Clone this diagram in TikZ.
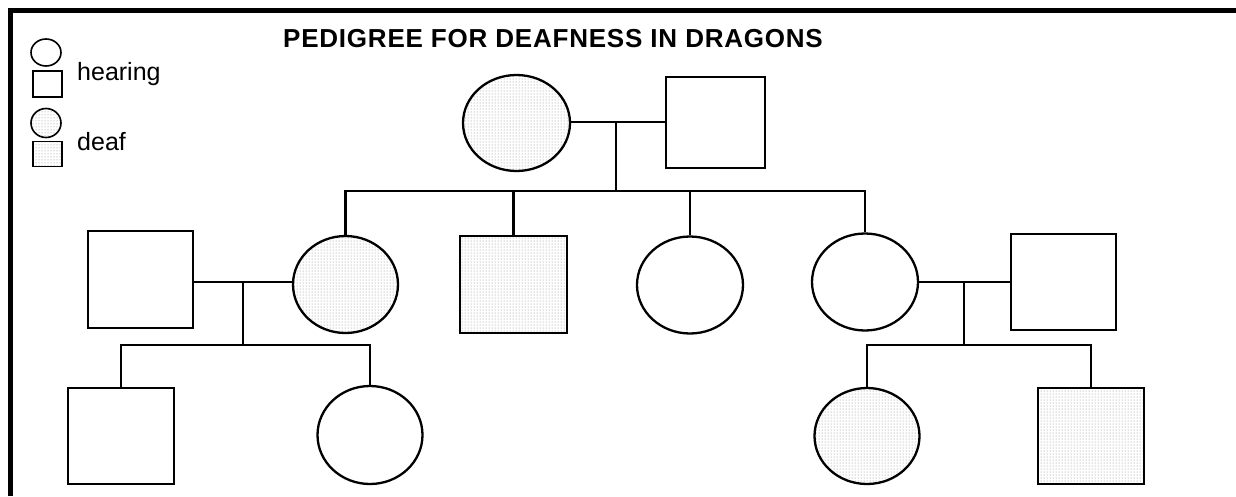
\documentclass[tikz,border=0pt]{standalone}
\usepackage{fontspec}
\setmainfont{Liberation Sans}
\newfontfamily\titlefont[LetterSpace=3]{Liberation Sans}
\usetikzlibrary{shapes.geometric,patterns}
\tikzset{
  person/.style={draw=black, line width=2.3pt, inner sep=0pt, fill=white},
  female/.style={person, ellipse},
  male/.style={person, rectangle},
  deaf/.style={fill=black!14, pattern=dots, pattern color=black!50},
  link/.style={line width=2.2pt},
  keyshape/.style={draw=black, line width=1.6pt, inner sep=0pt, fill=white},
  keytext/.style={anchor=base west, inner sep=0pt, font=\fontsize{25}{30}\selectfont},
}
\begin{document}
\begin{tikzpicture}[x=1pt, y=-1pt]
\useasboundingbox (0,0) rectangle (1236,496);
% frame
\draw[line width=5pt] (10,496) -- (10,10) -- (1236,10);

% title
\node[anchor=base, inner sep=0pt, font=\titlefont\bfseries\fontsize{26}{30}\selectfont] (title) at (553,47) {PEDIGREE FOR DEAFNESS IN DRAGONS};

% key
\node[keyshape, ellipse, minimum width=30pt, minimum height=27pt] (kh1) at (46,52.5) {};
\node[keyshape, rectangle, minimum width=29pt, minimum height=26pt] (kh2) at (47.5,84) {};
\node[keyshape, ellipse, minimum width=30pt, minimum height=29pt, deaf] (kd1) at (46,123) {};
\node[keyshape, rectangle, minimum width=29pt, minimum height=25pt, deaf] (kd2) at (47.5,154) {};
\node[keytext] (hearing) at (77,80) {hearing};
\node[keytext] (deaftext) at (77,150) {deaf};

% generation I
\node[female, deaf, minimum width=107pt, minimum height=96pt] (A) at (516.5,123) {};
\node[male, minimum width=99pt, minimum height=91pt] (B) at (715.5,122.5) {};

% generation II
\node[female, deaf, minimum width=105pt, minimum height=97pt] (C) at (345.5,284.5) {};
\node[male, deaf, minimum width=107pt, minimum height=97pt] (D) at (513.5,284.5) {};
\node[female, minimum width=106pt, minimum height=97pt] (E) at (690,285) {};
\node[female, minimum width=106pt, minimum height=97pt] (F) at (865,282) {};
\node[male, minimum width=105pt, minimum height=97pt] (G) at (140.5,279.5) {};
\node[male, minimum width=105pt, minimum height=96pt] (J) at (1063.5,282) {};

% generation III
\node[male, minimum width=106pt, minimum height=96pt] (H) at (121,436) {};
\node[female, minimum width=105pt, minimum height=98pt] (I) at (370,435) {};
\node[female, deaf, minimum width=105pt, minimum height=96pt] (K) at (867,436) {};
\node[male, deaf, minimum width=106pt, minimum height=96pt] (L) at (1091,436) {};

% mating and sibship points
\coordinate (m1) at (616,122);
\coordinate (s1) at (616,191);
\coordinate (m2) at (243,282);
\coordinate (s2) at (243,345);
\coordinate (m3) at (964,282);
\coordinate (s3) at (964,345);

% top couple and their children
\draw[link] (A.east |- m1) -- (B.west |- m1);
\draw[link] (m1) -- (s1);
\draw[link] (C.north) |- (s1) -| (F.north);
\draw[link] (D.north) -- (D.north |- s1);
\draw[link] (E.north) -- (E.north |- s1);

% left couple and their children
\draw[link] (G.east |- m2) -- (C.west |- m2);
\draw[link] (m2) -- (s2);
\draw[link] (H.north) |- (s2) -| (I.north);

% right couple and their children
\draw[link] (F.east |- m3) -- (J.west |- m3);
\draw[link] (m3) -- (s3);
\draw[link] (K.north) |- (s3) -| (L.north);
\end{tikzpicture}
\end{document}
